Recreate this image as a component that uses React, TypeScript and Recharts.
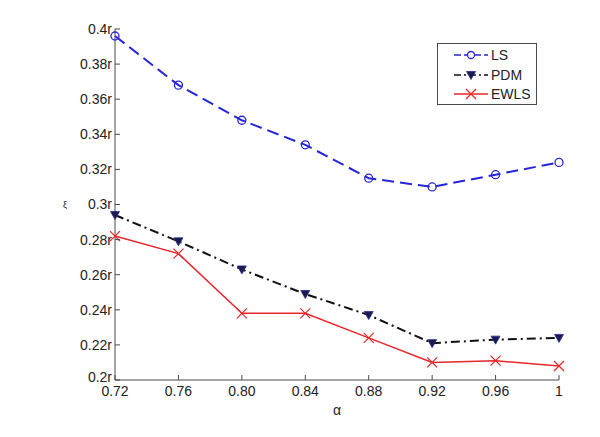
import { LineChart, Line, XAxis, YAxis } from 'recharts';

const alphaLabels = ['0.72', '0.76', '0.80', '0.84', '0.88', '0.92', '0.96', '1'];
const lsValues = [0.396, 0.368, 0.348, 0.334, 0.315, 0.31, 0.317, 0.324];
const pdmValues = [0.294, 0.279, 0.263, 0.249, 0.237, 0.221, 0.223, 0.224];
const ewlsValues = [0.282, 0.272, 0.238, 0.238, 0.224, 0.21, 0.211, 0.208];
const yTicks = [0.2, 0.22, 0.24, 0.26, 0.28, 0.3, 0.32, 0.34, 0.36, 0.38, 0.4];

const BLUE = '#2626d8';
const BLACK = '#111111';
const RED = '#e8262b';
const AXIS = '#4a4a4a';
const FONT = '"Liberation Sans", Arial, sans-serif';

const data = alphaLabels.map((a, i) => ({
  alpha: a,
  LS: lsValues[i],
  PDM: pdmValues[i],
  EWLS: ewlsValues[i],
}));

function fmtY(v: number) {
  return String(Number(v.toFixed(2))) + 'r';
}

const LeftTick = (props: any) => {
  const { x, y, payload } = props;
  const ax = x + 3;
  // lowest label sits a little higher so it clears the 0.72 label
  const lift = payload.value === 0.2 ? 3 : 0;
  return (
    <g>
      <line x1={ax} y1={y} x2={ax + 5} y2={y} stroke={AXIS} />
      <text x={x} y={y - lift} dy="0.35em" textAnchor="end" fontSize={14} fill="#222" fontFamily={FONT}>
        {fmtY(payload.value)}
      </text>
    </g>
  );
};

const BottomTick = (props: any) => {
  const { x, y, payload } = props;
  const ay = y - 4;
  return (
    <g>
      <line x1={x} y1={ay} x2={x} y2={ay - 5} stroke={AXIS} />
      <text x={x} y={y + 1} dy="0.75em" textAnchor="middle" fontSize={14} fill="#222" fontFamily={FONT}>
        {payload.value}
      </text>
    </g>
  );
};

const RightTick = (props: any) => {
  const { x, y } = props;
  return <line x1={x} y1={y} x2={x - 5} y2={y} stroke={AXIS} />;
};

const TopTick = (props: any) => {
  const { x, y } = props;
  return <line x1={x} y1={y} x2={x} y2={y + 5} stroke={AXIS} />;
};

const CircleDot = (props: any) => {
  const { cx, cy, index } = props;
  return <circle key={`c${index}`} cx={cx} cy={cy} r={4} fill="none" stroke={BLUE} strokeWidth={1.3} />;
};

const TriangleDot = (props: any) => {
  const { cx, cy, index } = props;
  return (
    <polygon
      key={`t${index}`}
      points={`${cx - 4.5},${cy - 3.5} ${cx + 4.5},${cy - 3.5} ${cx},${cy + 4.5}`}
      fill="#1b1b4e"
      stroke="#2a2a90"
      strokeWidth={0.8}
    />
  );
};

const CrossDot = (props: any) => {
  const { cx, cy, index } = props;
  return (
    <g key={`x${index}`}>
      <line x1={cx - 5} y1={cy - 5} x2={cx + 5} y2={cy + 5} stroke={RED} strokeWidth={1.2} />
      <line x1={cx - 5} y1={cy + 5} x2={cx + 5} y2={cy - 5} stroke={RED} strokeWidth={1.2} />
    </g>
  );
};

function LegendBox() {
  const rows = [
    { name: 'LS', color: BLUE, dash: '7 3', marker: 'o' },
    { name: 'PDM', color: BLACK, dash: '7 3 2 3', marker: 'v' },
    { name: 'EWLS', color: RED, dash: undefined, marker: 'x' },
  ];
  return (
    <div
      style={{
        position: 'absolute',
        left: 437,
        top: 43,
        width: 100,
        height: 62,
        boxSizing: 'border-box',
        border: `1px solid ${AXIS}`,
        background: '#fff',
        fontFamily: FONT,
        fontSize: 14,
        color: '#222',
      }}
    >
      {rows.map((r, i) => (
        <div key={r.name} style={{ position: 'absolute', left: 15, top: 3 + i * 19.5, height: 16, display: 'flex', alignItems: 'center' }}>
          <svg width={36} height={16}>
            <line x1={1} y1={8} x2={35} y2={8} stroke={r.color} strokeWidth={1.6} strokeDasharray={r.dash} />
            {r.marker === 'o' && <circle cx={18} cy={8} r={3.5} fill="#fff" stroke={BLUE} strokeWidth={1.3} />}
            {r.marker === 'v' && (
              <polygon points="13.5,4.5 22.5,4.5 18,12.5" fill="#1b1b4e" stroke="#2a2a90" strokeWidth={0.8} />
            )}
            {r.marker === 'x' && (
              <g stroke={RED} strokeWidth={1.2}>
                <line x1={13} y1={3} x2={23} y2={13} />
                <line x1={13} y1={13} x2={23} y2={3} />
              </g>
            )}
          </svg>
          <span style={{ marginLeft: 2 }}>{r.name}</span>
        </div>
      ))}
    </div>
  );
}

export default function App() {
  return (
    <div style={{ position: 'absolute', left: 0, top: 0, width: 600, height: 437, background: '#fff' }}>
      <LineChart width={600} height={437} data={data} margin={{ top: 29, right: 41, left: 55, bottom: 17 }}>
        <XAxis
          dataKey="alpha"
          interval={0}
          height={40}
          tickSize={0}
          tickMargin={4}
          tickLine={false}
          tick={<BottomTick />}
          axisLine={{ stroke: AXIS }}
          label={{ value: 'α', position: 'insideBottom', offset: 5, fontSize: 14, fill: '#222', fontFamily: FONT }}
        />
        <XAxis
          xAxisId="top"
          dataKey="alpha"
          orientation="top"
          interval={0}
          height={0}
          tickSize={0}
          tickMargin={0}
          tickLine={false}
          tick={<TopTick />}
          axisLine={{ stroke: AXIS }}
        />
        <YAxis
          type="number"
          domain={[0.2, 0.4]}
          ticks={yTicks}
          interval={0}
          width={60}
          tickSize={0}
          tickMargin={3}
          tickLine={false}
          tick={<LeftTick />}
          axisLine={{ stroke: AXIS }}
          label={{ value: 'ξ', position: 'insideLeft', offset: 8, fontSize: 9, fill: '#222', fontFamily: FONT }}
        />
        <YAxis
          yAxisId="right"
          orientation="right"
          type="number"
          domain={[0.2, 0.4]}
          ticks={yTicks}
          interval={0}
          width={0}
          tickSize={0}
          tickMargin={0}
          tickLine={false}
          tick={<RightTick />}
          axisLine={{ stroke: AXIS }}
        />
        <Line
          dataKey="LS"
          stroke={BLUE}
          strokeWidth={2}
          strokeDasharray="12 6"
          dot={CircleDot}
          isAnimationActive={false}
        />
        <Line
          dataKey="PDM"
          stroke={BLACK}
          strokeWidth={2}
          strokeDasharray="9 4 2 4"
          dot={TriangleDot}
          isAnimationActive={false}
        />
        <Line
          dataKey="EWLS"
          stroke={RED}
          strokeWidth={1.5}
          dot={CrossDot}
          isAnimationActive={false}
        />
      </LineChart>
      <LegendBox />
    </div>
  );
}
